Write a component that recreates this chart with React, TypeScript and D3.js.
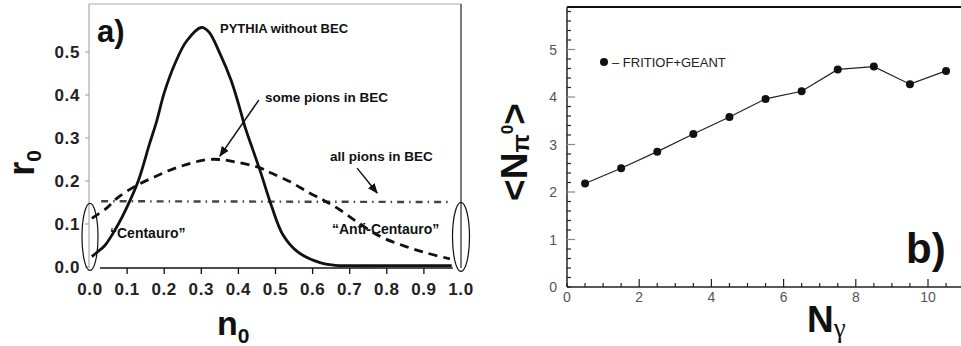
import React from "react";
import * as d3 from "d3";

// ---------- Panel a) data ----------
const pythiaN0 = [0.005, 0.02, 0.04, 0.07, 0.1, 0.13, 0.16, 0.18, 0.2, 0.23, 0.26, 0.3, 0.32, 0.35, 0.38, 0.4, 0.42, 0.44, 0.46, 0.49, 0.52, 0.56, 0.62, 0.66, 0.7, 0.8, 0.9, 0.975];
const pythiaR0 = [0.024, 0.035, 0.05, 0.09, 0.14, 0.2, 0.285, 0.34, 0.405, 0.475, 0.525, 0.557, 0.547, 0.497, 0.435, 0.38, 0.32, 0.27, 0.22, 0.14, 0.075, 0.035, 0.01, 0.004, 0.003, 0.003, 0.003, 0.003];

const someN0 = [0.005, 0.045, 0.07, 0.12, 0.175, 0.23, 0.31, 0.35, 0.4, 0.46, 0.49, 0.54, 0.59, 0.63, 0.67, 0.72, 0.78, 0.85, 0.91, 0.97];
const someR0 = [0.113, 0.137, 0.158, 0.187, 0.21, 0.23, 0.249, 0.25, 0.243, 0.23, 0.218, 0.198, 0.173, 0.155, 0.135, 0.105, 0.072, 0.048, 0.032, 0.019];

const allN0 = [0.03, 0.97];
const allR0 = [0.153, 0.151];

const xTicksA = [0, 0.1, 0.2, 0.3, 0.4, 0.5, 0.6, 0.7, 0.8, 0.9, 1.0];
const yTicksA = [0, 0.1, 0.2, 0.3, 0.4, 0.5];

// ---------- Panel b) data ----------
const nGamma = [0.5, 1.5, 2.5, 3.5, 4.5, 5.5, 6.5, 7.5, 8.5, 9.5, 10.5];
const nPi0 = [2.18, 2.5, 2.85, 3.22, 3.58, 3.96, 4.12, 4.58, 4.64, 4.27, 4.55];
const xTicksB = [0, 2, 4, 6, 8, 10];
const yTicksB = [0, 1, 2, 3, 4, 5];

export default function App() {
  const xA = d3.scaleLinear().domain([0, 1]).range([90, 461]);
  const yA = d3.scaleLinear().domain([0, 0.5]).range([267, 52]);
  const xB = d3.scaleLinear().domain([0, 10]).range([567, 928]);
  const yB = d3.scaleLinear().domain([0, 5]).range([287, 49.5]);

  const lineA = d3
    .line<[number, number]>()
    .x((d) => xA(d[0]))
    .y((d) => yA(d[1]))
    .curve(d3.curveCatmullRom.alpha(0.5));

  const pythia = lineA(pythiaN0.map((n, i) => [n, pythiaR0[i]]));
  const some = lineA(someN0.map((n, i) => [n, someR0[i]]));
  const all = d3
    .line<[number, number]>()
    .x((d) => xA(d[0]))
    .y((d) => yA(d[1]))(allN0.map((n, i) => [n, allR0[i]]));

  const lineB = d3
    .line<[number, number]>()
    .x((d) => xB(d[0]))
    .y((d) => yB(d[1]));
  const ptsB: [number, number][] = nGamma.map((g, i) => [g, nPi0[i]]);

  const minorYB = d3.range(0, 5.81, 0.2).map((v) => +v.toFixed(2));
  const minorXB = d3.range(0, 11.01, 0.5).map((v) => +v.toFixed(2));

  const bold = "'Liberation Sans', Arial, sans-serif";

  const arrows = [
    { from: [0.455, 0.388], to: [0.35, 0.258] },
    { from: [0.72, 0.23], to: [0.774, 0.172] },
  ];

  return (
    <svg
      width={961}
      height={346}
      style={{ position: "absolute", left: 0, top: 0, background: "#fff" }}
      fontFamily={bold}
    >
      <defs>
        <marker id="ah" viewBox="0 0 10 10" refX="9" refY="5" markerWidth="7" markerHeight="7" orient="auto">
          <path d="M0,1 L10,5 L0,9 z" fill="#111" />
        </marker>
      </defs>
      <rect x={0} y={0} width={961} height={346} fill="#fff" />

      {/* ===== Panel a ===== */}
      <line x1={89} y1={4} x2={461} y2={4} stroke="#aaa" strokeWidth={1} />
      <line x1={89} y1={4} x2={89} y2={268} stroke="#999" strokeWidth={1} />
      <line x1={461} y1={4} x2={461} y2={268} stroke="#333" strokeWidth={1.3} />
      <line x1={xA(0.027)} y1={268} x2={xA(0.978)} y2={268} stroke="#111" strokeWidth={1.6} />
      {xTicksA.slice(1, -1).map((t) => (
        <line key={"xt" + t} x1={xA(t)} x2={xA(t)} y1={268} y2={274} stroke="#111" strokeWidth={1.3} />
      ))}
      {yTicksA.map((t) => (
        <line key={"yt" + t} x1={85} x2={89} y1={yA(t)} y2={yA(t)} stroke="#999" strokeWidth={1} />
      ))}
      {xTicksA.map((t) => (
        <text key={"xl" + t} x={xA(t)} y={295} textAnchor="middle" fontSize={17} fontWeight="bold" fill="#222" letterSpacing={0.6}>
          {t.toFixed(1)}
        </text>
      ))}
      {yTicksA.map((t) => (
        <text key={"yl" + t} x={80} y={yA(t) + 6} textAnchor="end" fontSize={17} fontWeight="bold" fill="#222" letterSpacing={0.6}>
          {t.toFixed(1)}
        </text>
      ))}

      <path d={all ?? ""} fill="none" stroke="#444" strokeWidth={2.4} strokeDasharray="7,5,1.5,5" />
      <path d={some ?? ""} fill="none" stroke="#111" strokeWidth={2.8} strokeDasharray="9,6" />
      <path d={pythia ?? ""} fill="none" stroke="#111" strokeWidth={2.8} />

      <ellipse cx={xA(0)} cy={yA(0.07)} rx={8} ry={33.5} fill="none" stroke="#111" strokeWidth={1.2} />
      <ellipse cx={xA(1)} cy={yA(0.07)} rx={8.5} ry={34.5} fill="none" stroke="#111" strokeWidth={1.2} />

      {arrows.map((a, i) => (
        <line
          key={"ar" + i}
          x1={xA(a.from[0])}
          y1={yA(a.from[1])}
          x2={xA(a.to[0])}
          y2={yA(a.to[1])}
          stroke="#111"
          strokeWidth={1.5}
          markerEnd="url(#ah)"
        />
      ))}

      <text x={97} y={42} fontSize={31} fontWeight="bold" fill="#111">a)</text>
      <text x={220} y={33} fontSize={13} fontWeight="bold" fill="#111">PYTHIA without BEC</text>
      <text x={265} y={102} fontSize={13.5} fontWeight="bold" fill="#111">some pions in BEC</text>
      <text x={330} y={161} fontSize={13.5} fontWeight="bold" fill="#111">all pions in BEC</text>
      <text x={110} y={238} fontSize={14} fontWeight="bold" fill="#111">{"\u201CCentauro\u201D"}</text>
      <text x={332} y={234} fontSize={14} fontWeight="bold" fill="#111">{"\u201CAnti-Centauro\u201D"}</text>

      <text transform="translate(34,163) rotate(-90)" textAnchor="middle" fontSize={36} fontWeight="bold" fill="#111">
        r<tspan fontSize={21} dy={7}>0</tspan>
      </text>
      <text x={217} y={335} fontSize={34} fontWeight="bold" fill="#111">
        n<tspan fontSize={21} dy={8}>0</tspan>
      </text>

      {/* ===== Panel b ===== */}
      <line x1={567} y1={7} x2={961} y2={7} stroke="#111" strokeWidth={2} />
      <line x1={567} y1={7} x2={567} y2={287} stroke="#222" strokeWidth={1.5} />
      <line x1={567} y1={287} x2={961} y2={287} stroke="#222" strokeWidth={1.5} />
      {minorYB.map((t) => {
        const major = Math.abs(t - Math.round(t)) < 1e-6 && t > 0;
        return (
          <line key={"ybt" + t} x1={567} x2={567 + (major ? 8 : 4)} y1={yB(t)} y2={yB(t)} stroke={major ? "#888" : "#222"} strokeWidth={1.2} />
        );
      })}
      {minorXB.map((t) => {
        const major = Math.abs(t / 2 - Math.round(t / 2)) < 1e-6 && t > 0;
        return (
          <line key={"xbt" + t} x1={xB(t)} x2={xB(t)} y1={287} y2={287 - (major ? 8 : 4)} stroke="#222" strokeWidth={1.2} />
        );
      })}
      {xTicksB.map((t) => (
        <text key={"xbl" + t} x={xB(t)} y={302} textAnchor="middle" fontSize={14} fill="#555">
          {t}
        </text>
      ))}
      {yTicksB.map((t) => (
        <text key={"ybl" + t} x={557} y={yB(t) + 5} textAnchor="end" fontSize={14} fill="#555">
          {t}
        </text>
      ))}

      <path d={lineB(ptsB) ?? ""} fill="none" stroke="#222" strokeWidth={1.2} />
      {ptsB.map((p, i) => (
        <circle key={"pt" + i} cx={xB(p[0])} cy={yB(p[1])} r={4} fill="#111" />
      ))}

      <circle cx={604} cy={62} r={4} fill="#111" />
      <text x={612} y={66.5} fontSize={13} fill="#222">{"\u2013 FRITIOF+GEANT"}</text>

      <text transform="translate(527,152) rotate(-90)" textAnchor="middle" fontSize={37} fontWeight="bold" fill="#111">
        {"<N"}
        <tspan fontSize={24} dy={2}>{"\u03C0"}</tspan>
        <tspan fontSize={17} dy={-16}>0</tspan>
        <tspan dy={14}>{">"}</tspan>
      </text>
      <text x={807} y={332} fontSize={37} fontWeight="bold" fill="#111">
        N<tspan fontSize={27} fontWeight="normal" fontFamily="'Liberation Serif', serif" dy={5}>{"\u03B3"}</tspan>
      </text>
      <text x={906} y={263} fontSize={42} fontWeight="bold" fill="#111">b)</text>
    </svg>
  );
}
